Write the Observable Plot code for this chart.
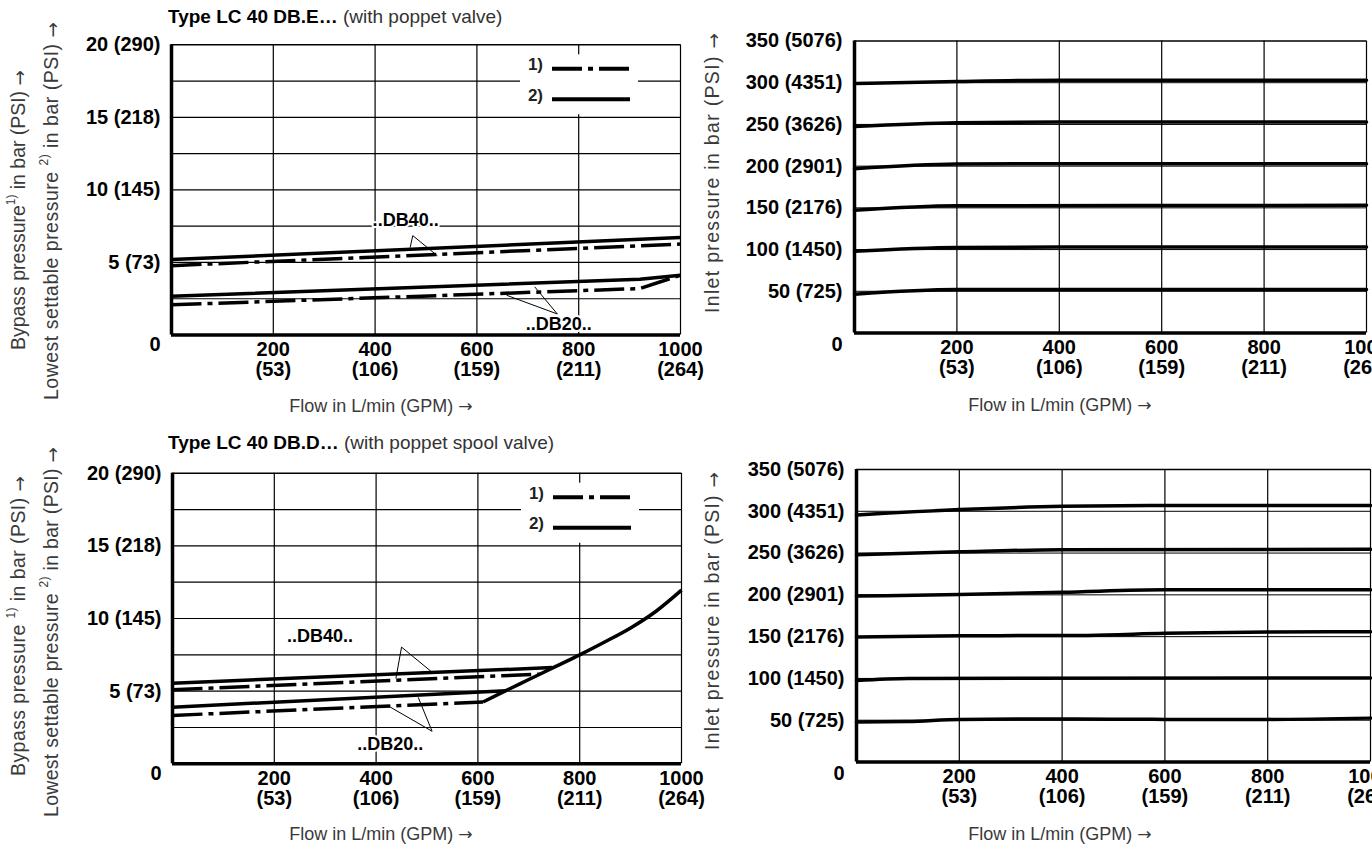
<!DOCTYPE html>
<html><head><meta charset="utf-8">
<script src="https://cdn.jsdelivr.net/npm/d3@7"></script>
<script src="https://cdn.jsdelivr.net/npm/@observablehq/plot@0.6"></script>
<style>
html,body{margin:0;padding:0;background:#fff;}
body{width:1372px;height:850px;overflow:hidden;position:relative;font-family:"Liberation Sans",Arial,sans-serif;}
.panel{position:absolute;}
.panel svg{max-width:none !important;}
.title{position:absolute;font-size:19px;line-height:22px;color:#333;white-space:nowrap;}
.title b{color:#000;}
</style></head><body>
<div class="title" style="left:168px;top:6px"><b>Type LC 40 DB.E…</b> (with poppet valve)</div>
<div class="title" style="left:168px;top:432px"><b>Type LC 40 DB.D…</b> (with poppet spool valve)</div>
<div id="tl" class="panel" style="left:0;top:0;width:720px;height:430px"></div>
<div id="tr" class="panel" style="left:690px;top:0;width:740px;height:430px"></div>
<div id="bl" class="panel" style="left:0;top:430px;width:720px;height:430px"></div>
<div id="br" class="panel" style="left:690px;top:430px;width:740px;height:430px"></div>
<script>
// ---------- axis ticks ----------
const flowTicks = [200, 400, 600, 800, 1000];
const flowTicksGpm = ["53", "106", "159", "211", "264"];
const barTicksLeft = [5, 10, 15, 20];
const psiTicksLeft = ["73", "145", "218", "290"];
const barGridLeft = [2.5, 5, 7.5, 10, 12.5, 15, 17.5];
const barTicksRight = [50, 100, 150, 200, 250, 300, 350];
const psiTicksRight = ["725", "1450", "2176", "2901", "3626", "4351", "5076"];
const barGridRight = [50, 100, 150, 200, 250, 300];

// ---------- Type LC 40 DB.E (poppet valve): bypass (1) / lowest settable (2) ----------
const eDB40Bypass = [{q: 0, p: 4.78}, {q: 1000, p: 6.27}];
const eDB40Lowest = [{q: 0, p: 5.2}, {q: 1000, p: 6.72}];
const eDB20Bypass = [{q: 0, p: 2.08}, {q: 920, p: 3.2}, {q: 1000, p: 4.12}];
const eDB20Lowest = [{q: 0, p: 2.67}, {q: 920, p: 3.84}, {q: 1000, p: 4.12}];
const eDB40Leader = [{q: 469, p: 6.05}, {q: 474, p: 6.85}, {q: 522, p: 5.47}];
const eDB20Leader = [{q: 714, p: 3.3}, {q: 758, p: 1.45}, {q: 659, p: 2.73}];
const eLabels = [{q: 460, p: 7.9, t: "..DB40.."}, {q: 761, p: 0.72, t: "..DB20.."}];

// ---------- Type LC 40 DB.D (poppet spool valve) ----------
const dDB40Bypass = [{q: 0, p: 5.09}, {q: 722, p: 6.17}];
const dDB40Lowest = [{q: 0, p: 5.55}, {q: 746, p: 6.62}];
const dDB20Bypass = [{q: 0, p: 3.33}, {q: 610, p: 4.25}];
const dDB20Lowest = [{q: 0, p: 3.9}, {q: 655, p: 5.02}];
const dHighFlow = [{q: 610, p: 4.25}, {q: 650, p: 4.95}, {q: 700, p: 5.8}, {q: 750, p: 6.65},
  {q: 800, p: 7.5}, {q: 850, p: 8.4}, {q: 900, p: 9.35}, {q: 950, p: 10.5}, {q: 1000, p: 11.95}];
const dDB40Leader = [{q: 439, p: 5.9}, {q: 450, p: 8.03}, {q: 509, p: 6.33}];
const dDB20Leader = [{q: 423, p: 4.0}, {q: 510, p: 2.24}, {q: 483, p: 4.55}];
const dLabels = [{q: 290, p: 8.75, t: "..DB40.."}, {q: 428, p: 1.35, t: "..DB20.."}];

// ---------- inlet pressure vs flow, DB.E ----------
const eInlet50 = [{q: 0, p: 46.5}, {q: 200, p: 52}, {q: 1000, p: 52}];
const eInlet100 = [{q: 0, p: 98}, {q: 200, p: 102.5}, {q: 400, p: 103}, {q: 1000, p: 103}];
const eInlet150 = [{q: 0, p: 147}, {q: 200, p: 152.5}, {q: 1000, p: 153}];
const eInlet200 = [{q: 0, p: 197}, {q: 200, p: 202.5}, {q: 400, p: 203}, {q: 1000, p: 203}];
const eInlet250 = [{q: 0, p: 247.5}, {q: 200, p: 252}, {q: 400, p: 253}, {q: 1000, p: 253}];
const eInlet300 = [{q: 0, p: 299}, {q: 200, p: 301.5}, {q: 400, p: 303}, {q: 1000, p: 303}];

// ---------- inlet pressure vs flow, DB.D ----------
const dInlet50 = [{q: 0, p: 48}, {q: 100, p: 48.5}, {q: 200, p: 51}, {q: 400, p: 51.5}, {q: 600, p: 51}, {q: 800, p: 51}, {q: 1000, p: 52.5}];
const dInlet100 = [{q: 0, p: 97.5}, {q: 100, p: 100}, {q: 1000, p: 100.5}];
const dInlet150 = [{q: 0, p: 149.5}, {q: 200, p: 151}, {q: 450, p: 151.5}, {q: 600, p: 154}, {q: 800, p: 155.5}, {q: 1000, p: 156}];
const dInlet200 = [{q: 0, p: 198.5}, {q: 200, p: 200.5}, {q: 400, p: 203}, {q: 600, p: 206}, {q: 1000, p: 206}];
const dInlet250 = [{q: 0, p: 248}, {q: 200, p: 251.5}, {q: 400, p: 254}, {q: 1000, p: 254.5}];
const dInlet300 = [{q: 0, p: 295.5}, {q: 200, p: 302}, {q: 400, p: 306}, {q: 600, p: 307}, {q: 1000, p: 307}];

// ---------- helpers ----------
const FONT = '"Liberation Sans", Arial, sans-serif';
const DASHDOT = "30,6,5,6";
const xFmt = d => `${d}\n(${flowTicksGpm[flowTicks.indexOf(d)]})`;

function addText(svg, x, y, parts, opts = {}) {
  const size = opts.size || 19.5;
  const t = svg.append("text")
    .attr("font-family", FONT)
    .attr("font-size", size)
    .attr("font-weight", "normal")
    .attr("fill", "#3a3a3a")
    .attr("text-anchor", "middle")
    .attr("dominant-baseline", "middle")
    .attr("transform", `translate(${x},${y})` + (opts.rotate ? " rotate(-90)" : ""));
  if (opts.len) t.attr("textLength", opts.len).attr("lengthAdjust", "spacing");
  let pendingDy = 0;
  parts.forEach(([s, kind]) => {
    const sp = t.append("tspan").text(s);
    if (kind === "sup") {
      sp.attr("font-size", 12).attr("dy", -8);
      pendingDy = 8;
      return;
    }
    if (pendingDy) { sp.attr("dy", pendingDy); pendingDy = 0; }
    if (kind === "arrow") sp.attr("font-family", '"DejaVu Sans", sans-serif').attr("font-size", size * 0.95);
  });
  return t;
}

function addLegend(svg, R, T) {
  const g = svg.append("g").attr("font-family", FONT);
  g.append("rect").attr("x", R - 160).attr("y", T + 10).attr("width", 118).attr("height", 60).attr("fill", "#fff");
  [["1)", 21.5, 24.5, DASHDOT], ["2)", 52, 55, null]].forEach(([lab, ty, ly, dash]) => {
    g.append("text").attr("x", R - 137).attr("y", T + ty).attr("text-anchor", "end").attr("dominant-baseline", "middle")
      .attr("font-size", 17).attr("fill", "#222").text(lab);
    const l = g.append("line").attr("x1", R - 128).attr("x2", R - 50).attr("y1", T + ly).attr("y2", T + ly)
      .attr("stroke", "#000").attr("stroke-width", 4);
    if (dash) l.attr("stroke-dasharray", dash);
  });
}

const baseStyle = {fontFamily: FONT, fontSize: "20px", fontWeight: "bold", color: "#000", background: "transparent", overflow: "visible", maxWidth: "none"};

function leftPanel(cfg) {
  const W = 720, H = 430;
  const plot = Plot.plot({
    width: W, height: H,
    marginLeft: cfg.ml, marginRight: W - cfg.xr, marginTop: cfg.mt, marginBottom: H - cfg.yb,
    style: baseStyle,
    x: {domain: [0, 1000], ticks: flowTicks, tickFormat: xFmt, tickSize: 0, tickPadding: 7, label: null},
    y: {domain: [0, 20], ticks: barTicksLeft, tickFormat: d => `${d} (${psiTicksLeft[barTicksLeft.indexOf(d)]})`, tickSize: 0, tickPadding: 11, label: null},
    marks: [
      Plot.ruleX(flowTicks, {stroke: "#000", strokeWidth: 1.2}),
      Plot.ruleY(barGridLeft, {stroke: "#000", strokeWidth: 1.2}),
      Plot.ruleY([20], {stroke: "#000", strokeWidth: 1.5}),
      Plot.text(cfg.labels, {x: "q", y: "p", text: "t", fontSize: 18, fontWeight: "bold", fill: "#000", stroke: "#fff", strokeWidth: 4}),
      ...cfg.lines.map(([data, dash, curve]) => Plot.line(data, {x: "q", y: "p", stroke: "#000", strokeWidth: 3.5,
        strokeDasharray: dash ? DASHDOT : null, strokeLinecap: "butt", curve: curve || "linear"})),
      ...cfg.leaders.map(data => Plot.line(data, {x: "q", y: "p", stroke: "#000", strokeWidth: 1})),
      Plot.ruleX([0], {stroke: "#000", strokeWidth: 3.5}),
      Plot.ruleY([0], {stroke: "#000", strokeWidth: 3.5}),
      Plot.text(["0"], {frameAnchor: "bottom-left", text: d => d, dx: -11, dy: 16, textAnchor: "end", fontWeight: "bold"})
    ]
  });
  const svg = d3.select(plot);
  addText(svg, 20, cfg.y1, cfg.ylabel1, {rotate: true, len: cfg.len1});
  addText(svg, 53, cfg.y2, cfg.ylabel2, {rotate: true, len: cfg.len2});
  addText(svg, cfg.xlx, cfg.yb + 72, [["Flow in L/min (GPM) "], ["→", "arrow"]], {size: 18});
  addLegend(svg, cfg.xr, cfg.mt);
  document.getElementById(cfg.id).appendChild(plot);
}

function rightPanel(cfg) {
  const W = 740, H = 430;
  const plot = Plot.plot({
    width: W, height: H,
    marginLeft: cfg.ml, marginRight: W - cfg.xr, marginTop: cfg.mt, marginBottom: H - cfg.yb,
    style: baseStyle,
    x: {domain: [0, 1000], ticks: flowTicks, tickFormat: xFmt, tickSize: 0, tickPadding: 7, label: null},
    y: {domain: [0, 350], ticks: barTicksRight, tickFormat: d => `${d} (${psiTicksRight[barTicksRight.indexOf(d)]})`, tickSize: 0, tickPadding: 12, label: null},
    marks: [
      Plot.ruleX(flowTicks, {stroke: "#000", strokeWidth: 1.2}),
      Plot.ruleY(barGridRight, {stroke: "#000", strokeWidth: 1}),
      Plot.ruleY([350], {stroke: "#000", strokeWidth: 1.5}),
      ...cfg.lines.map(data => Plot.line(data, {x: "q", y: "p", stroke: "#000", strokeWidth: 3.5, curve: "monotone-x"})),
      Plot.ruleX([0], {stroke: "#000", strokeWidth: 3.5}),
      Plot.ruleY([0], {stroke: "#000", strokeWidth: 3.5}),
      Plot.text(["0"], {frameAnchor: "bottom-left", text: d => d, dx: -12, dy: 18, textAnchor: "end", fontWeight: "bold"})
    ]
  });
  const svg = d3.select(plot);
  addText(svg, 24, cfg.yc, [["Inlet pressure in bar (PSI) "], ["→", "arrow"]], {rotate: true, len: cfg.len});
  addText(svg, cfg.xlx, cfg.yb + 73, [["Flow in L/min (GPM) "], ["→", "arrow"]], {size: 18});
  document.getElementById(cfg.id).appendChild(plot);
}

leftPanel({
  id: "tl", ml: 171, xr: 680, mt: 44.3, yb: 334.5, y1: 210, y2: 211, len1: 280, len2: 378, xlx: 381,
  ylabel1: [["Bypass pressure"], ["1)", "sup"], [" in bar (PSI) "], ["→", "arrow"]],
  ylabel2: [["Lowest settable pressure "], ["2)", "sup"], [" in bar (PSI) "], ["→", "arrow"]],
  labels: eLabels,
  lines: [[eDB40Lowest, false], [eDB40Bypass, true], [eDB20Lowest, false], [eDB20Bypass, true]],
  leaders: [eDB40Leader, eDB20Leader]
});
leftPanel({
  id: "bl", ml: 172, xr: 681, mt: 42.7, yb: 333.3, y1: 196, y2: 202, len1: 300, len2: 370, xlx: 381,
  ylabel1: [["Bypass pressure "], ["1)", "sup"], [" in bar (PSI) "], ["→", "arrow"]],
  ylabel2: [["Lowest settable pressure "], ["2)", "sup"], [" in bar (PSI) "], ["→", "arrow"]],
  labels: dLabels,
  lines: [[dDB40Lowest, false], [dDB40Bypass, true], [dDB20Lowest, false], [dDB20Bypass, true], [dHighFlow, false, "monotone-x"]],
  leaders: [dDB40Leader, dDB20Leader]
});
rightPanel({id: "tr", ml: 164, xr: 676, mt: 40.5, yb: 332.5, yc: 173, len: 280, xlx: 370,
  lines: [eInlet50, eInlet100, eInlet150, eInlet200, eInlet250, eInlet300]});
rightPanel({id: "br", ml: 166, xr: 680, mt: 39, yb: 331.5, yc: 181, len: 278, xlx: 370,
  lines: [dInlet50, dInlet100, dInlet150, dInlet200, dInlet250, dInlet300]});
</script>
</body></html>
